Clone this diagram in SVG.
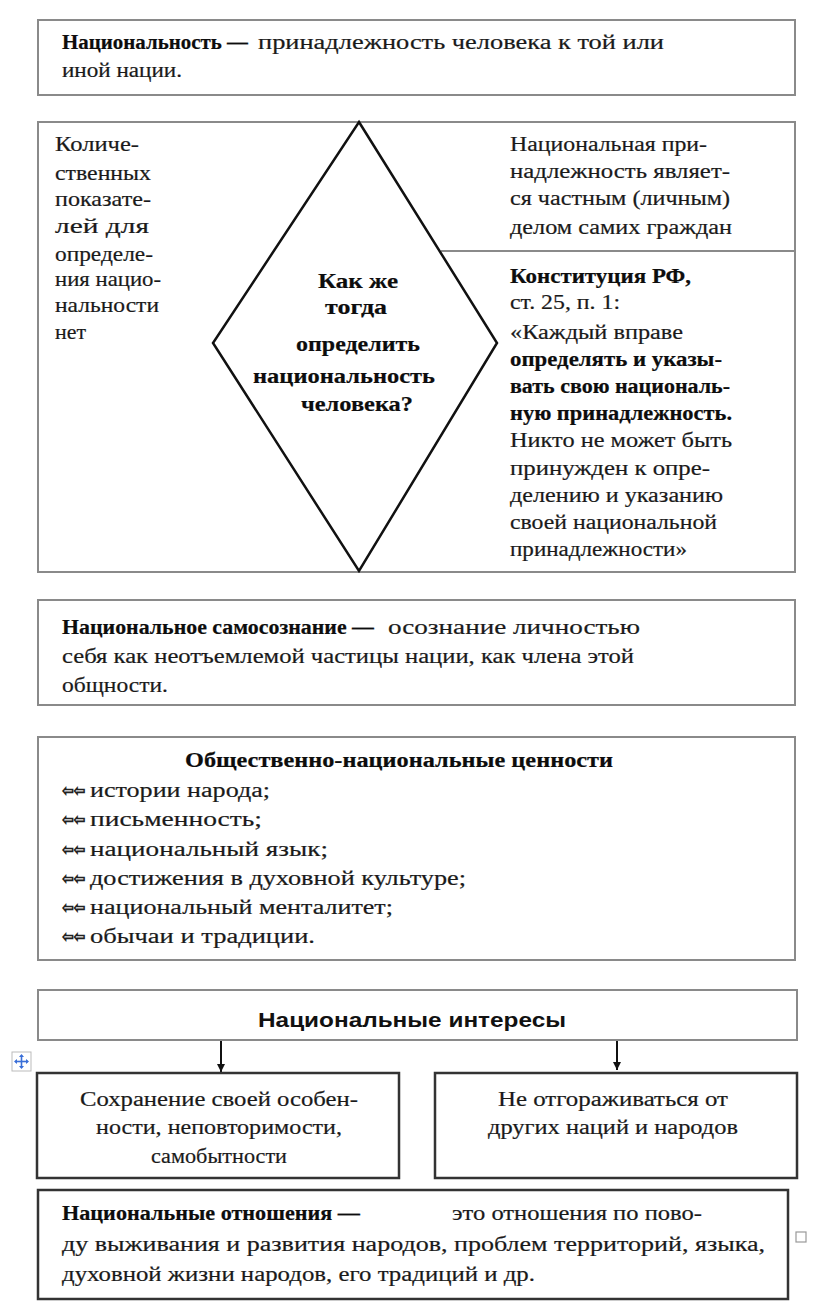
<svg xmlns="http://www.w3.org/2000/svg" width="816" height="1311" viewBox="0 0 816 1311">
<style>
.t{font-family:"Liberation Serif","Times New Roman","DejaVu Serif",serif;font-size:20.5px;fill:#1a1a1a;stroke:#1a1a1a;stroke-width:0.2}
.b{font-weight:bold;fill:#0d0d0d;stroke:#0d0d0d}
.lc{font-size:21px}
.dm{font-size:22px}
.s{font-family:"Liberation Sans",Arial,sans-serif;font-size:21px;font-weight:bold;fill:#111}
.box{fill:#fff;stroke:#8a8a8a;stroke-width:2}
.dbox{fill:#fff;stroke:#333;stroke-width:2.5}
.c{text-anchor:middle}
.bul{font-family:"DejaVu Sans",sans-serif;font-size:16px;fill:#fff;stroke:#222;stroke-width:0.9}
</style>
<defs>
<marker id="ah" viewBox="0 0 10 10" refX="10" refY="5" markerWidth="8" markerHeight="11" markerUnits="userSpaceOnUse" orient="auto">
<path d="M0,0 L10,5 L0,10 Z" fill="#111"/>
</marker>
</defs>
<rect width="816" height="1311" fill="#fff"/>

<g id="nationality">
<rect class="box" x="38" y="20" width="757" height="75"/>
<text class="t b" x="62" y="49" textLength="186" lengthAdjust="spacingAndGlyphs">Национальность —</text>
<text class="t" x="258" y="49" textLength="406" lengthAdjust="spacingAndGlyphs">принадлежность  человека к той или</text>
<text class="t" x="62" y="77" textLength="120" lengthAdjust="spacingAndGlyphs">иной нации.</text>
</g>

<g id="determine">
<rect class="box" x="38" y="122" width="757" height="450"/>
<line x1="441" y1="251" x2="795" y2="251" stroke="#8a8a8a" stroke-width="2"/>
<g id="left-text">
<text class="t lc" x="55" y="151" textLength="84" lengthAdjust="spacingAndGlyphs">Количе-</text>
<text class="t lc" x="55" y="180" textLength="96" lengthAdjust="spacingAndGlyphs">ственных</text>
<text class="t lc" x="55" y="206" textLength="96" lengthAdjust="spacingAndGlyphs">показате-</text>
<text class="t lc" x="55" y="233" textLength="94" lengthAdjust="spacingAndGlyphs">лей для</text>
<text class="t lc" x="55" y="261" textLength="98" lengthAdjust="spacingAndGlyphs">определе-</text>
<text class="t lc" x="55" y="286" textLength="106" lengthAdjust="spacingAndGlyphs">ния нацио-</text>
<text class="t lc" x="55" y="312" textLength="104" lengthAdjust="spacingAndGlyphs">нальности</text>
<text class="t lc" x="55" y="339" textLength="31" lengthAdjust="spacingAndGlyphs">нет</text>
</g>
<g id="diamond">
<polygon points="359,122 497,343 359,571 213,343" fill="#fff" stroke="#111" stroke-width="2.5"/>
<text class="t b dm c" x="358" y="288" textLength="80" lengthAdjust="spacingAndGlyphs">Как же</text>
<text class="t b dm c" x="356" y="314" textLength="62" lengthAdjust="spacingAndGlyphs">тогда</text>
<text class="t b dm c" x="358" y="351" textLength="124" lengthAdjust="spacingAndGlyphs">определить</text>
<text class="t b dm c" x="344" y="383" textLength="182" lengthAdjust="spacingAndGlyphs">национальность</text>
<text class="t b dm c" x="357" y="411" textLength="112" lengthAdjust="spacingAndGlyphs">человека?</text>
</g>
<g id="private">
<text class="t" x="510" y="151" textLength="197" lengthAdjust="spacingAndGlyphs">Национальная при-</text>
<text class="t" x="510" y="178" textLength="220" lengthAdjust="spacingAndGlyphs">надлежность являет-</text>
<text class="t" x="510" y="205" textLength="220" lengthAdjust="spacingAndGlyphs">ся частным (личным)</text>
<text class="t" x="510" y="234" textLength="222" lengthAdjust="spacingAndGlyphs">делом самих граждан</text>
</g>
<g id="constitution">
<text class="t b" x="510" y="283" textLength="181" lengthAdjust="spacingAndGlyphs">Конституция РФ,</text>
<text class="t" x="510" y="309" textLength="110" lengthAdjust="spacingAndGlyphs">ст. 25, п. 1:</text>
<text class="t" x="510" y="339" textLength="173" lengthAdjust="spacingAndGlyphs">«Каждый вправе</text>
<text class="t b" x="510" y="366" textLength="212" lengthAdjust="spacingAndGlyphs">определять и указы-</text>
<text class="t b" x="510" y="393" textLength="220" lengthAdjust="spacingAndGlyphs">вать свою националь-</text>
<text class="t b" x="510" y="420" textLength="222" lengthAdjust="spacingAndGlyphs">ную принадлежность.</text>
<text class="t" x="510" y="447" textLength="222" lengthAdjust="spacingAndGlyphs">Никто не может быть</text>
<text class="t" x="510" y="475" textLength="200" lengthAdjust="spacingAndGlyphs">принужден к опре-</text>
<text class="t" x="510" y="502" textLength="213" lengthAdjust="spacingAndGlyphs">делению и указанию</text>
<text class="t" x="510" y="529" textLength="207" lengthAdjust="spacingAndGlyphs">своей национальной</text>
<text class="t" x="510" y="556" textLength="177" lengthAdjust="spacingAndGlyphs">принадлежности»</text>
</g>
</g>

<g id="self-awareness">
<rect class="box" x="38" y="600" width="757" height="105"/>
<text class="t b" x="62" y="634" textLength="312" lengthAdjust="spacingAndGlyphs">Национальное самосознание —</text>
<text class="t" x="388" y="634" textLength="252" lengthAdjust="spacingAndGlyphs">осознание  личностью</text>
<text class="t" x="62" y="663" textLength="572" lengthAdjust="spacingAndGlyphs">себя как неотъемлемой  частицы  нации,  как члена этой</text>
<text class="t" x="62" y="692" textLength="106" lengthAdjust="spacingAndGlyphs">общности.</text>
</g>

<g id="values">
<rect class="box" x="38" y="737" width="757" height="223"/>
<text class="t b" x="185" y="767" textLength="428" lengthAdjust="spacingAndGlyphs">Общественно-национальные ценности</text>
<text class="bul" x="62" y="796" textLength="23" lengthAdjust="spacingAndGlyphs">⇦⇦</text>
<text class="t" x="90" y="797" textLength="180" lengthAdjust="spacingAndGlyphs">истории  народа;</text>
<text class="bul" x="62" y="825" textLength="23" lengthAdjust="spacingAndGlyphs">⇦⇦</text>
<text class="t" x="90" y="826" textLength="172" lengthAdjust="spacingAndGlyphs">письменность;</text>
<text class="bul" x="62" y="855" textLength="23" lengthAdjust="spacingAndGlyphs">⇦⇦</text>
<text class="t" x="90" y="856" textLength="238" lengthAdjust="spacingAndGlyphs">национальный  язык;</text>
<text class="bul" x="62" y="884" textLength="23" lengthAdjust="spacingAndGlyphs">⇦⇦</text>
<text class="t" x="90" y="885" textLength="376" lengthAdjust="spacingAndGlyphs">достижения  в духовной культуре;</text>
<text class="bul" x="62" y="913" textLength="23" lengthAdjust="spacingAndGlyphs">⇦⇦</text>
<text class="t" x="90" y="914" textLength="303" lengthAdjust="spacingAndGlyphs">национальный  менталитет;</text>
<text class="bul" x="62" y="942" textLength="23" lengthAdjust="spacingAndGlyphs">⇦⇦</text>
<text class="t" x="90" y="943" textLength="225" lengthAdjust="spacingAndGlyphs">обычаи и традиции.</text>
</g>

<g id="interests">
<rect class="box" x="38" y="990" width="759" height="50"/>
<text class="s c" x="412" y="1027" textLength="308" lengthAdjust="spacingAndGlyphs">Национальные интересы</text>
</g>

<g id="connectors">
<line x1="221" y1="1041" x2="221" y2="1072" stroke="#111" stroke-width="2" marker-end="url(#ah)"/>
<line x1="617" y1="1041" x2="617" y2="1070" stroke="#111" stroke-width="2" marker-end="url(#ah)"/>
</g>

<g id="move-handle">
<rect x="12" y="1052" width="19" height="19" fill="#fff" stroke="#bbb" stroke-width="1"/>
<g stroke="#3a6fd8" stroke-width="1.6">
<line x1="15" y1="1061.5" x2="28" y2="1061.5"/>
<line x1="21.5" y1="1055" x2="21.5" y2="1068"/>
</g>
<g fill="#3a6fd8">
<path d="M14,1061.5 L17,1059 L17,1064 Z"/>
<path d="M29,1061.5 L26,1059 L26,1064 Z"/>
<path d="M21.5,1054 L19,1057 L24,1057 Z"/>
<path d="M21.5,1069 L19,1066 L24,1066 Z"/>
</g>
</g>

<g id="preserve">
<rect class="dbox" x="37" y="1073" width="362" height="105"/>
<text class="t c" x="219" y="1106" textLength="278" lengthAdjust="spacingAndGlyphs">Сохранение своей особен-</text>
<text class="t c" x="219" y="1134" textLength="246" lengthAdjust="spacingAndGlyphs">ности, неповторимости,</text>
<text class="t c" x="219" y="1163" textLength="136" lengthAdjust="spacingAndGlyphs">самобытности</text>
</g>

<g id="open">
<rect class="dbox" x="435" y="1073" width="362" height="105"/>
<text class="t c" x="613" y="1106" textLength="230" lengthAdjust="spacingAndGlyphs">Не отгораживаться от</text>
<text class="t c" x="613" y="1134" textLength="250" lengthAdjust="spacingAndGlyphs">других наций и народов</text>
</g>

<g id="relations">
<rect class="dbox" x="38" y="1190" width="750" height="109"/>
<text class="t b" x="62" y="1220" textLength="298" lengthAdjust="spacingAndGlyphs">Национальные отношения —</text>
<text class="t" x="452" y="1220" textLength="250" lengthAdjust="spacingAndGlyphs">это отношения  по пово-</text>
<text class="t" x="62" y="1251" textLength="703" lengthAdjust="spacingAndGlyphs">ду  выживания  и  развития  народов,  проблем  территорий,  языка,</text>
<text class="t" x="62" y="1281" textLength="473" lengthAdjust="spacingAndGlyphs">духовной жизни народов, его традиций и др.</text>
<rect x="796" y="1232" width="10" height="10" fill="#fff" stroke="#999" stroke-width="1.2"/>
</g>
</svg>
